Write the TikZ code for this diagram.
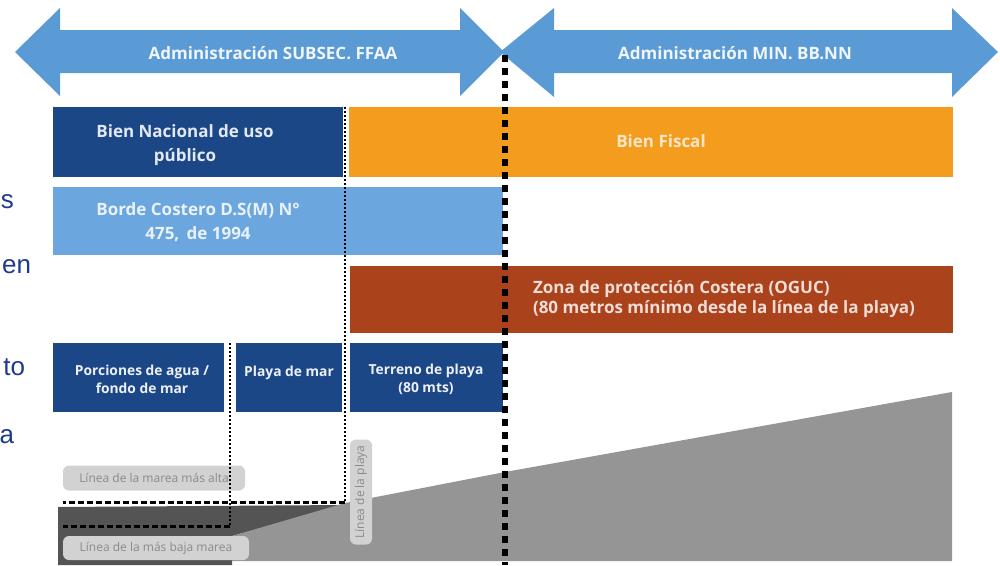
\documentclass[tikz,border=0pt]{standalone}
\usepackage{fontspec}
\setmainfont{Open Sans}
\newfontfamily\sidefont{Liberation Sans}
\definecolor{arrowblue}{HTML}{5B9BD5}
\definecolor{navy}{HTML}{1B4787}
\definecolor{fiscal}{HTML}{F39C1E}
\definecolor{costblue}{HTML}{6CA6DE}
\definecolor{rust}{HTML}{AA421C}
\definecolor{darkground}{HTML}{545454}
\definecolor{lightground}{HTML}{959595}
\definecolor{tagbg}{HTML}{D2D2D2}
\definecolor{taggray}{HTML}{8A8A8A}
\definecolor{sideblue}{HTML}{1F3A8A}
\tikzstyle{every node}=[inner sep=0pt, outer sep=0pt]
\tikzset{zone/.style={rectangle, anchor=north west}}
\tikzset{zonetext/.style={font=\bfseries\fontsize{17}{24}\selectfont, align=center}}
\tikzset{smalltext/.style={font=\bfseries\fontsize{13.8}{18}\selectfont, align=center, text=white!92!navy}}
\tikzset{tag/.style={rectangle, rounded corners=6pt, fill=tagbg, text=taggray, font=\fontsize{12}{13}\selectfont}}
\tikzset{sidetext/.style={font=\sidefont\fontsize{26}{30}\selectfont, text=sideblue, anchor=east}}
\tikzset{fine dots/.style={line width=2pt, dash pattern=on 2pt off 2pt}}
\tikzset{fine dash/.style={line width=3pt, dash pattern=on 6pt off 3pt}}
\tikzset{border dash/.style={line width=5.5pt, dash pattern=on 7pt off 6pt}}

\begin{document}
\begin{tikzpicture}[x=1pt,y=-1pt]
    \useasboundingbox (0,0) rectangle (1000,565);
    \fill[arrowblue] (15,52) -- (60,8) -- (60,30) -- (460,30) -- (460,8) -- (504,52)
      -- (460,96) -- (460,73) -- (60,73) -- (60,96) -- cycle;
    \fill[arrowblue] (500,52) -- (554,8) -- (554,30) -- (952,30) -- (952,8) -- (998,52)
      -- (952,97) -- (952,73) -- (554,73) -- (554,97) -- cycle;
    \node[zonetext, text=white!90!arrowblue] (subsec) at (273,53) {Administración SUBSEC. FFAA};
    \node[zonetext, text=white!90!arrowblue] (minbbnn) at (735,53) {Administración MIN. BB.NN};

    \node[zone, fill=navy, minimum width=290pt, minimum height=70pt] (bnup) at (53,107) {};
    \node[zone, fill=fiscal, minimum width=604pt, minimum height=70pt] (fiscal) at (349,107) {};
    \node[zone, fill=costblue, minimum width=450pt, minimum height=68pt] (borde) at (53,187) {};
    \node[zone, fill=rust, minimum width=603pt, minimum height=67pt] (oguc) at (350,266) {};
    \node[zone, fill=navy, minimum width=171pt, minimum height=69pt] (agua) at (53,343) {};
    \node[zone, fill=navy, minimum width=106pt, minimum height=69pt] (playamar) at (236,343) {};
    \node[zone, fill=navy, minimum width=153pt, minimum height=69pt] (terreno) at (350,343) {};

    \node[zonetext, text=white!88!navy] (bnuptxt) at (185,145) {Bien Nacional de uso\\público};
    \node[zonetext, text=white!75!fiscal] (fiscaltxt) at (661,141) {Bien Fiscal};
    \node[zonetext, text=white!85!costblue] (bordetxt) at (198,222) {Borde Costero D.S(M) N°\\475,\, de 1994};
    \node[zonetext, text=white!82!rust, align=left, anchor=west,
      font=\bfseries\fontsize{17}{20}\selectfont] (ogucTxt) at (533,299)
      {Zona de protección Costera (OGUC)\\(80 metros mínimo desde la línea de la playa)};
    \node[smalltext] (aguatxt) at (142,379) {Porciones de agua /\\fondo de mar};
    \node[smalltext] (playamartxt) at (289,373) {Playa de mar};
    \node[smalltext] (terrenotxt) at (426,379) {Terreno de playa\\(80 mts)};

    \fill[darkground] (58,507) -- (345,505) -- (232,536) -- (232,565) -- (58,565) -- cycle;
    \fill[lightground] (232,536) -- (345,503) -- (505,472) -- (952,392) -- (952,561)
      -- (232,561) -- cycle;

    \node[tag, minimum width=182pt, minimum height=25pt] (alta) at (154,478) {Línea de la marea más alta};
    \node[tag, minimum width=186pt, minimum height=24pt] (baja) at (156,548) {Línea de la más baja marea};
    \node[tag, minimum width=105pt, minimum height=22pt, rotate=90] (lplaya) at (361,492) {Línea de la playa};

    \coordinate (top345) at (345,107);
    \coordinate (turn345) at (345,502);
    \coordinate (end502) at (63,502);
    \coordinate (top230) at (230,343);
    \coordinate (turn230) at (230,526);
    \coordinate (end526) at (63,526);
    \coordinate (top505) at (505,55);
    \coordinate (bot505) at (505,565);
    \draw[fine dots] (top345) -- (turn345);
    \draw[fine dash] (turn345) -- (end502);
    \draw[fine dots, line width=2.6pt] (top230) -- (turn230);
    \draw[fine dash] (turn230) -- (end526);
    \draw[border dash] (top505) -- (bot505);

    \node[sidetext] (frag1) at (14,202) {s};
    \node[sidetext] (frag2) at (31,267) {en};
    \node[sidetext] (frag3) at (25,367) {to};
    \node[sidetext] (frag4) at (14,437) {a};
  \end{tikzpicture}
\end{document}
